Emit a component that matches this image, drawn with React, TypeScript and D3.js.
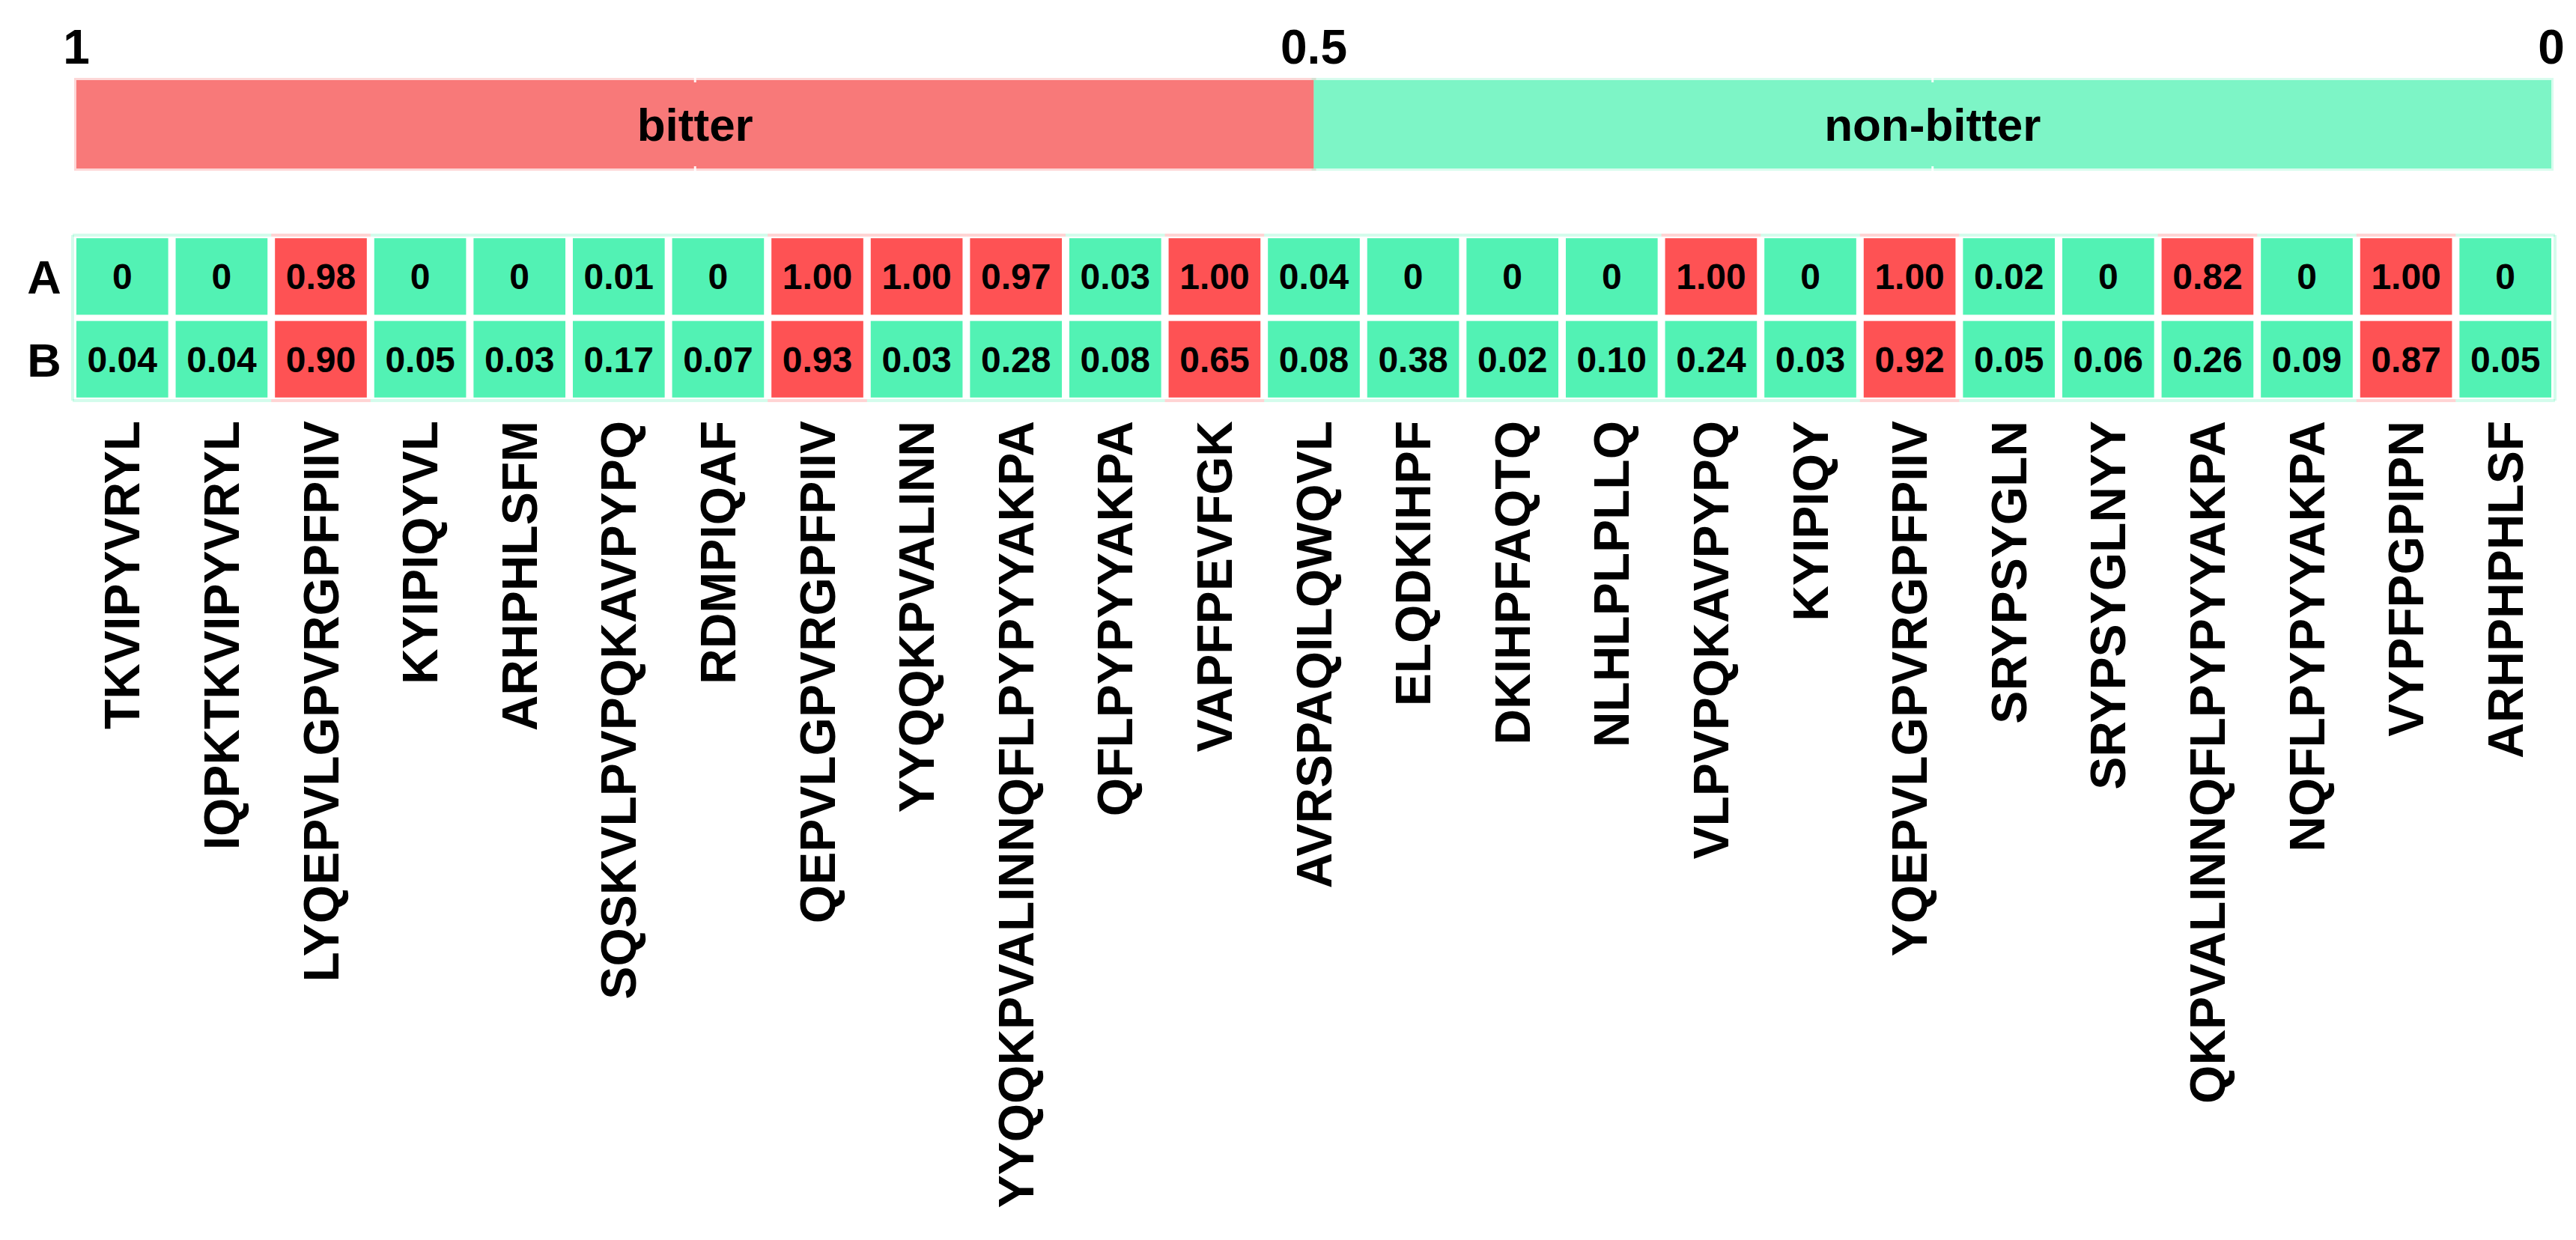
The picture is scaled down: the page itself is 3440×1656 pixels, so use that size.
import { useEffect, useRef } from "react";
import * as d3 from "d3";

// peptides along the x axis
const peptides: string[] = [
  "TKVIPYVRYL",
  "IQPKTKVIPYVRYL",
  "LYQEPVLGPVRGPFPIIV",
  "KYIPIQYVL",
  "ARHPHLSFM",
  "SQSKVLPVPQKAVPYPQ",
  "RDMPIQAF",
  "QEPVLGPVRGPFPIIV",
  "YYQQKPVALINN",
  "YYQQKPVALINNQFLPYPYYAKPA",
  "QFLPYPYYAKPA",
  "VAPFPEVFGK",
  "AVRSPAQILQWQVL",
  "ELQDKIHPF",
  "DKIHPFAQTQ",
  "NLHLPLPLLQ",
  "VLPVPQKAVPYPQ",
  "KYIPIQY",
  "YQEPVLGPVRGPFPIIV",
  "SRYPSYGLN",
  "SRYPSYGLNYY",
  "QKPVALINNQFLPYPYYAKPA",
  "NQFLPYPYYAKPA",
  "VYPFPGPIPN",
  "ARHPHPHLSF",
];

const rows: string[] = ["A", "B"];

const scoresA: number[] = [
  0, 0, 0.98, 0, 0, 0.01, 0, 1.0, 1.0, 0.97, 0.03, 1.0, 0.04, 0, 0, 0, 1.0, 0,
  1.0, 0.02, 0, 0.82, 0, 1.0, 0,
];

const scoresB: number[] = [
  0.04, 0.04, 0.9, 0.05, 0.03, 0.17, 0.07, 0.93, 0.03, 0.28, 0.08, 0.65, 0.08,
  0.38, 0.02, 0.1, 0.24, 0.03, 0.92, 0.05, 0.06, 0.26, 0.09, 0.87, 0.05,
];

// legend bar
const legendTicks: number[] = [1, 0.5, 0];
const legendClasses = [
  { name: "bitter", from: 1, to: 0.5 },
  { name: "non-bitter", from: 0.5, to: 0 },
];

export default function App() {
  const svgRef = useRef<SVGSVGElement | null>(null);

  useEffect(() => {
    const width = 3440;
    const height = 1656;
    const font = "'Liberation Sans', Arial, sans-serif";

    const svg = d3
      .select(svgRef.current)
      .attr("width", width)
      .attr("height", height);

    svg.selectAll("*").remove();

    const gridLeft = 97;
    const gridRight = 3412;
    const gridTop = 314;
    const rowH = 110.5;

    const x = d3
      .scaleBand()
      .domain(peptides)
      .range([gridLeft, gridRight])
      .paddingInner(0.075)
      .paddingOuter(0.0375);

    const y = d3
      .scaleBand()
      .domain(rows)
      .range([gridTop, gridTop + rowH * rows.length])
      .paddingInner(0.075)
      .paddingOuter(0.0375);

    const barColor = d3
      .scaleOrdinal<string, string>()
      .domain(["bitter", "non-bitter"])
      .range(["#f87979", "#7df5c6"]);

    const cellColor = d3
      .scaleThreshold<number, string>()
      .domain([0.5])
      .range(["#52f2b4", "#fe5254"]);

    const first = x(peptides[0]) || 0;
    const last = (x(peptides[peptides.length - 1]) || 0) + x.bandwidth();

    const legendX = d3.scaleLinear().domain([1, 0]).range([first, last]);
    const barTop = 107;
    const barH = 118;

    // legend bar: soft edge first, then solid fill
    const legend = svg.append("g");
    legend
      .selectAll("rect.edge")
      .data(legendClasses)
      .join("rect")
      .attr("class", "edge")
      .attr("x", (d) => legendX(d.from))
      .attr("y", barTop)
      .attr("width", (d) => legendX(d.to) - legendX(d.from))
      .attr("height", barH)
      .attr("fill", "none")
      .attr("stroke", (d) => barColor(d.name))
      .attr("stroke-opacity", 0.3)
      .attr("stroke-width", 6);

    legend
      .selectAll("rect.fill")
      .data(legendClasses)
      .join("rect")
      .attr("class", "fill")
      .attr("x", (d) => legendX(d.from))
      .attr("y", barTop)
      .attr("width", (d) => legendX(d.to) - legendX(d.from))
      .attr("height", barH)
      .attr("fill", (d) => barColor(d.name));

    // small white notches in the middle of each class
    legend
      .selectAll("g.notch")
      .data(legendClasses)
      .join("g")
      .attr("class", "notch")
      .each(function (d) {
        const mx = legendX((d.from + d.to) / 2);
        const g = d3.select(this);
        [barTop - 3, barTop + barH - 3].forEach((yy) => {
          g.append("rect")
            .attr("x", mx - 1.5)
            .attr("y", yy)
            .attr("width", 3)
            .attr("height", 6)
            .attr("fill", "#ffffff")
            .attr("opacity", 0.9);
        });
      });

    legend
      .selectAll("text.cls")
      .data(legendClasses)
      .join("text")
      .attr("class", "cls")
      .attr("x", (d) => legendX((d.from + d.to) / 2))
      .attr("y", barTop + barH / 2 + 22)
      .attr("text-anchor", "middle")
      .attr("font-family", font)
      .attr("font-weight", "bold")
      .attr("font-size", 62)
      .attr("fill", "#000")
      .text((d) => d.name);

    legend
      .selectAll("text.tick")
      .data(legendTicks)
      .join("text")
      .attr("class", "tick")
      .attr("x", (d) => legendX(d))
      .attr("y", 85)
      .attr("text-anchor", "middle")
      .attr("font-family", font)
      .attr("font-weight", "bold")
      .attr("font-size", 64)
      .attr("fill", "#000")
      .text((d) => String(d));

    // heatmap cells
    const cells = rows.flatMap((r, ri) =>
      peptides.map((p, ci) => ({
        row: r,
        ri,
        ci,
        peptide: p,
        value: (r === "A" ? scoresA : scoresB)[ci],
      }))
    );

    const heat = svg.append("g");

    // faint outer frame, tinted by the neighbouring cell
    const step = x.step();
    const rstep = y.step();
    heat
      .selectAll("g.frame")
      .data(cells)
      .join("g")
      .attr("class", "frame")
      .each(function (d) {
        const g = d3.select(this);
        const cx0 = gridLeft + d.ci * step;
        const cy0 = gridTop + d.ri * rstep;
        const col = cellColor(d.value);
        const segs: [number, number, number, number][] = [];
        if (d.ri === 0) segs.push([cx0, cy0, cx0 + step, cy0]);
        if (d.ri === rows.length - 1)
          segs.push([cx0, cy0 + rstep, cx0 + step, cy0 + rstep]);
        if (d.ci === 0) segs.push([cx0, cy0, cx0, cy0 + rstep]);
        if (d.ci === peptides.length - 1)
          segs.push([cx0 + step, cy0, cx0 + step, cy0 + rstep]);
        segs.forEach((s) =>
          g
            .append("line")
            .attr("x1", s[0])
            .attr("y1", s[1])
            .attr("x2", s[2])
            .attr("y2", s[3])
            .attr("stroke", col)
            .attr("stroke-opacity", 0.25)
            .attr("stroke-width", 4)
        );
      });

    heat
      .selectAll("rect.cell")
      .data(cells)
      .join("rect")
      .attr("class", "cell")
      .attr("x", (d) => x(d.peptide) || 0)
      .attr("y", (d) => y(d.row) || 0)
      .attr("width", x.bandwidth())
      .attr("height", y.bandwidth())
      .attr("fill", (d) => cellColor(d.value));

    heat
      .selectAll("text.val")
      .data(cells)
      .join("text")
      .attr("class", "val")
      .attr("x", (d) => (x(d.peptide) || 0) + x.bandwidth() / 2)
      .attr("y", (d) => (y(d.row) || 0) + y.bandwidth() / 2 + 17)
      .attr("text-anchor", "middle")
      .attr("font-family", font)
      .attr("font-weight", "bold")
      .attr("font-size", 48)
      .attr("fill", "#000")
      .text((d) => (d.value === 0 ? "0" : d3.format(".2f")(d.value)));

    // row labels
    svg
      .append("g")
      .selectAll("text")
      .data(rows)
      .join("text")
      .attr("x", 59)
      .attr("y", (d) => (y(d) || 0) + y.bandwidth() / 2 + 23)
      .attr("text-anchor", "middle")
      .attr("font-family", font)
      .attr("font-weight", "bold")
      .attr("font-size", 63)
      .attr("fill", "#000")
      .text((d) => d);

    // rotated peptide labels
    const labelTop = 562;
    svg
      .append("g")
      .selectAll("text")
      .data(peptides)
      .join("text")
      .attr(
        "transform",
        (d) =>
          `translate(${(x(d) || 0) + x.bandwidth() / 2 + 23},${labelTop}) rotate(-90)`
      )
      .attr("text-anchor", "end")
      .attr("font-family", font)
      .attr("font-weight", "bold")
      .attr("font-size", 66)
      .attr("fill", "#000")
      .text((d) => d);
  }, []);

  return (
    <svg
      ref={svgRef}
      style={{ position: "absolute", left: 0, top: 0, display: "block", background: "#fff" }}
    ></svg>
  );
}
